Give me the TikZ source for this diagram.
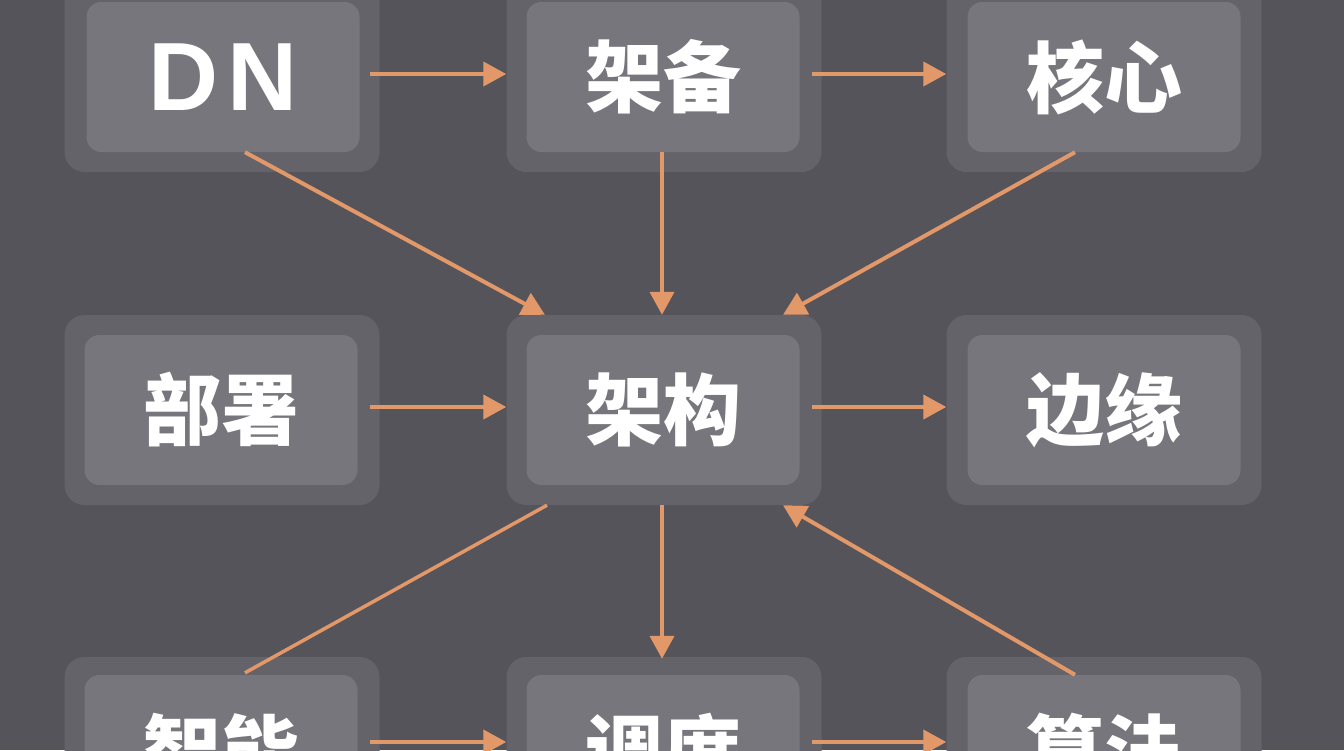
\documentclass[tikz,border=0pt]{standalone}
\usepackage{fontspec}
\setmainfont{Noto Sans CJK SC}
\newfontfamily\latinfont{Liberation Sans}
\usetikzlibrary{arrows.meta}
\definecolor{bgc}{RGB}{84,84,90}
\definecolor{outc}{RGB}{99,99,105}
\definecolor{innc}{RGB}{118,118,124}
\definecolor{arrc}{RGB}{226,152,104}
\tikzset{
  outerbox/.style={draw=none,fill=outc,rounded corners=20pt,minimum width=315pt,minimum height=190pt,inner sep=0pt},
  innerbox/.style={draw=none,fill=innc,rounded corners=15pt,minimum width=273pt,minimum height=150pt,inner sep=0pt,text=white,font=\fontsize{78}{80}\selectfont\bfseries},
  conn/.style={draw=arrc,line width=4pt,-{Triangle[length=23pt,width=24pt]}},
  plainconn/.style={draw=arrc,line width=3.5pt}
}
\begin{document}
\begin{tikzpicture}[x=1pt,y=-1pt]
\useasboundingbox (0,0) rectangle (1344,750);
\clip (0,0) rectangle (1344,750);
\fill[bgc] (0,0) rectangle (1344,750);
% outer boxes
\node[outerbox] (o1) at (222,77) {};
\node[outerbox] (o2) at (664,77) {};
\node[outerbox] (o3) at (1104,77) {};
\node[outerbox] (o4) at (222,410) {};
\node[outerbox] (o5) at (664,410) {};
\node[outerbox] (o6) at (1104,410) {};
\node[outerbox] (o7) at (222,752) {};
\node[outerbox] (o8) at (664,752) {};
\node[outerbox] (o9) at (1104,752) {};
% inner boxes
\node[innerbox,font=\latinfont\fontsize{97}{99}\selectfont\bfseries] (t1) at (223,77) {D\kern0.1em N};
\node[innerbox] (t2) at (663,77) {架备};
\node[innerbox] (t3) at (1104,77) {核心};
\node[innerbox] (t4) at (221,410) {部署};
\node[innerbox] (t5) at (663,410) {架构};
\node[innerbox] (t6) at (1104,410) {边缘};
\node[innerbox] (t7) at (221,750) {智能};
\node[innerbox] (t8) at (663,750) {调度};
\node[innerbox] (t9) at (1104,750) {算法};
% horizontal arrows
\draw[conn] ([xshift=-10pt,yshift=3pt]o1.east) -- ([yshift=3pt]o2.west);
\draw[conn] ([xshift=-10pt,yshift=3pt]o2.east) -- ([yshift=3pt]o3.west);
\draw[conn] ([xshift=-10pt,yshift=3pt]o4.east) -- ([yshift=3pt]o5.west);
\draw[conn] ([xshift=-10pt,yshift=3pt]o5.east) -- ([yshift=3pt]o6.west);
\draw[conn] ([xshift=-10pt,yshift=10pt]o7.east) -- ([yshift=10pt]o8.west);
\draw[conn] ([xshift=-10pt,yshift=10pt]o8.east) -- ([yshift=10pt]o9.west);
% vertical arrows
\draw[conn] ([xshift=-1pt]t2.south) -- ([xshift=-2pt]o5.north);
\draw[conn] ([xshift=-2pt]o5.south) -- ([xshift=-2pt,yshift=-2pt]o8.north);
% diagonals
\draw[conn] ([xshift=22pt]t1.south) -- ([xshift=-119pt]o5.north);
\draw[conn] ([xshift=-29pt]t3.south) -- ([xshift=119pt]o5.north);
\draw[conn] ([xshift=-29pt]t9.north) -- ([xshift=119pt]o5.south);
\draw[plainconn] ([xshift=24pt,yshift=2pt]t7.north) -- ([xshift=-117pt]o5.south);
\end{tikzpicture}
\end{document}
